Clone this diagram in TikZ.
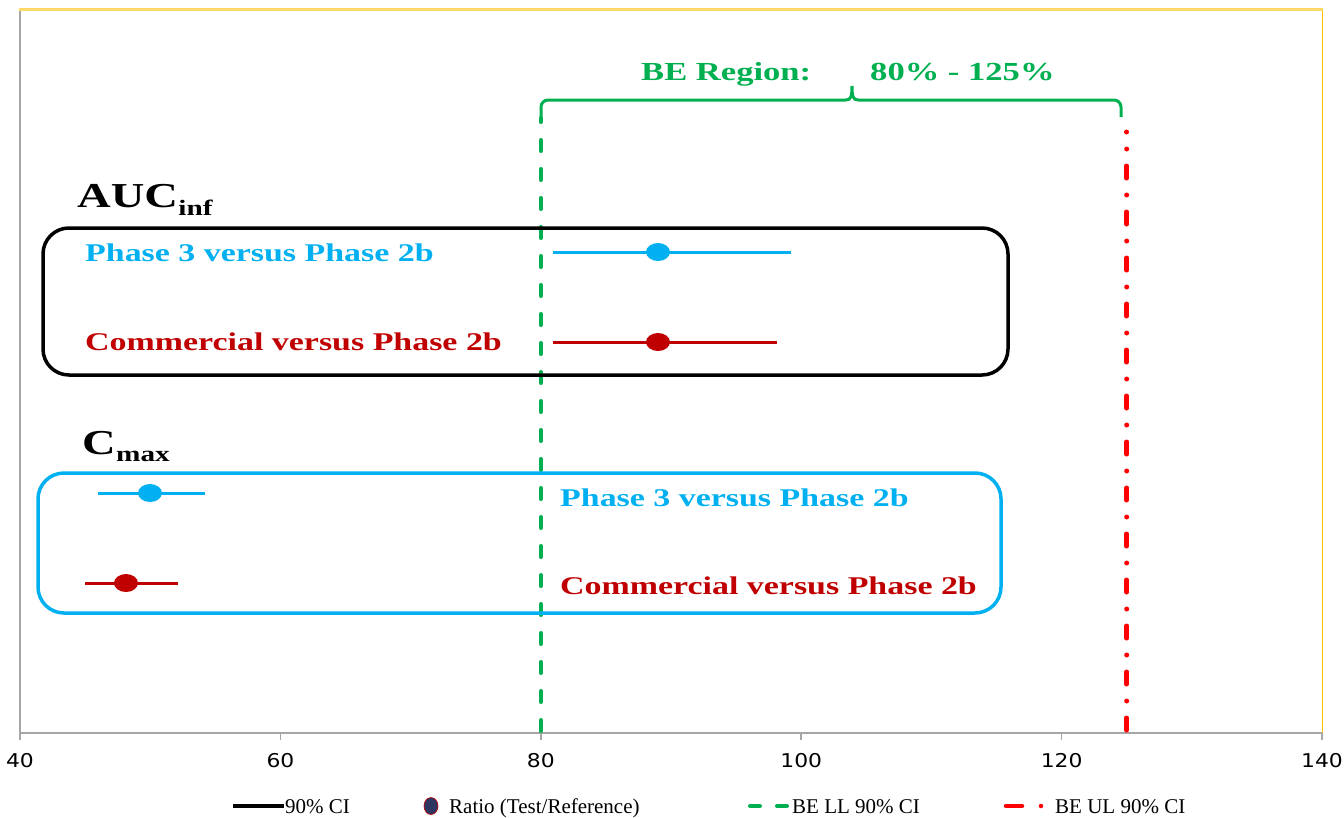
\documentclass[tikz,border=0pt]{standalone}
\usepackage{fontspec}
\setmainfont{Liberation Serif}
\newfontfamily\wideserif[FakeStretch=1.33]{Liberation Serif}
\newfontfamily\legserif[FakeStretch=1.0]{Liberation Serif}
\newfontfamily\axisfont[FakeStretch=1.15]{DejaVu Sans}
\definecolor{cyanc}{HTML}{00B0F0}
\definecolor{redc}{HTML}{C00000}
\definecolor{greenc}{HTML}{00B050}
\definecolor{redl}{HTML}{FF0000}
\definecolor{goldc}{HTML}{FFD966}
\definecolor{yellowc}{HTML}{FFC000}
\definecolor{axisgray}{HTML}{A6A6A6}
\definecolor{navyc}{HTML}{2E3560}
\tikzset{
  lbl/.style={anchor=base west, inner sep=0pt, font=\wideserif\bfseries\fontsize{25.5}{26}\selectfont},
  biglbl/.style={anchor=base west, inner sep=0pt, font=\wideserif\bfseries\fontsize{35}{35}\selectfont},
  sublbl/.style={anchor=base west, inner sep=0pt, font=\wideserif\bfseries\fontsize{22}{22}\selectfont},
  grouptext/.style={anchor=base west, inner sep=0pt, text=greenc, font=\wideserif\bfseries\fontsize{26}{26}\selectfont},
  groupbox/.style={line width=3.5pt, rounded corners=26pt},
  ciline/.style={line width=3pt},
  cidot/.style={ellipse, minimum width=24pt, minimum height=18pt, inner sep=0pt},
  lldash/.style={greenc, line width=4pt, line cap=round, dash pattern=on 11pt off 18pt},
  uldash/.style={redl, line width=5pt, line cap=round, dash pattern=on 12pt off 17pt on 0pt off 17pt},
  braceline/.style={greenc, line width=3pt},
  ticklbl/.style={font=\axisfont\fontsize{19}{19}\selectfont, inner sep=0pt},
  legtext/.style={anchor=base west, inner sep=0pt, font=\legserif\fontsize{21}{21}\selectfont}
}
\usetikzlibrary{shapes.geometric}
\begin{document}
\begin{tikzpicture}[x=1pt, y=-1pt]
\useasboundingbox (0,0) rectangle (1344,817);
% frame
\draw[axisgray, line width=2pt] (20,9) -- (20,733);
\draw[yellowc, line width=1pt] (1322,9) -- (1322,733);
\draw[goldc, line width=3pt] (19,9) -- (1323,9);
% axis
\draw[axisgray, line width=1.5pt] (20,733) -- (1322,733);
\foreach \v/\px in {40/20, 60/280.4, 80/540.8, 100/801.2, 120/1061.6, 140/1322}{
  \draw[axisgray, line width=1.5pt] (\px,733) -- (\px,740);
  \node[ticklbl] (t\v) at (\px,761) {\v};
}
% BE limits
\coordinate (llbot) at (540.8,731);
\coordinate (lltop) at (540.8,118);
\draw[lldash] (llbot) -- (lltop);
\coordinate (ulbot) at (1126.7,730);
\coordinate (ultop) at (1126.7,132);
\draw[uldash] (ulbot) -- (ultop);
% brace
\coordinate (bl) at (541,117);
\coordinate (br) at (1121,117);
\coordinate (tip) at (852,86);
\draw[braceline, rounded corners=7pt] (bl) -- (541,100) -- (846,100);
\draw[braceline] (846,100) .. controls (851,100) and (852,96) .. (tip) .. controls (852,96) and (853,100) .. (858,100);
\draw[braceline, rounded corners=7pt] (858,100) -- (1121,100) -- (br);
\node[grouptext] (beregion) at (641,80) {BE Region:};
\node[grouptext] (berange) at (870,80) {80\% - 125\%};
% AUC group
\node[biglbl] (auc) at (77,207) {AUC};
\node[sublbl, yshift=-8pt] (aucsub) at (auc.base east) {inf};
\draw[groupbox, black] (43,228) rectangle (1008,375);
\node[lbl, text=cyanc] (aucp3) at (85,261) {Phase 3 versus Phase 2b};
\node[lbl, text=redc] (auccom) at (85,350) {Commercial versus Phase 2b};
\coordinate (a1l) at (553,252); \coordinate (a1r) at (791,252);
\draw[ciline, cyanc] (a1l) -- (a1r);
\node[cidot, fill=cyanc] (a1d) at (658,252) {};
\coordinate (a2l) at (553,342); \coordinate (a2r) at (777,342);
\draw[ciline, redc] (a2l) -- (a2r);
\node[cidot, fill=redc] (a2d) at (658,342) {};
% Cmax group
\node[biglbl] (cmax) at (82,454) {C};
\node[sublbl, yshift=-7pt] (cmaxsub) at (cmax.base east) {max};
\draw[groupbox, cyanc] (38,473) rectangle (1001,613);
\node[lbl, text=cyanc] (cp3) at (560,506) {Phase 3 versus Phase 2b};
\node[lbl, text=redc] (ccom) at (560,594) {Commercial versus Phase 2b};
\coordinate (c1l) at (98,493); \coordinate (c1r) at (205,493);
\draw[ciline, cyanc] (c1l) -- (c1r);
\node[cidot, fill=cyanc] (c1d) at (150,493) {};
\coordinate (c2l) at (85,583); \coordinate (c2r) at (178,583);
\draw[ciline, redc] (c2l) -- (c2r);
\node[cidot, fill=redc] (c2d) at (126,583) {};
% legend
\coordinate (lg1a) at (233,806); \coordinate (lg1b) at (284,806);
\draw[black, line width=4pt] (lg1a) -- (lg1b);
\node[legtext] (lgt1) at (285,813) {90\% CI};
\node[ellipse, minimum width=14pt, minimum height=17pt, inner sep=0pt, fill=navyc, draw=redc, line width=0.6pt] (lgdot) at (431,806) {};
\node[legtext] (lgt2) at (449,813) {Ratio (Test/Reference)};
\coordinate (lg3a) at (750,806); \coordinate (lg3b) at (790,806);
\draw[greenc, line width=4pt, line cap=round, dash pattern=on 10pt off 17pt] (lg3a) -- (lg3b);
\node[legtext] (lgt3) at (792,813) {BE LL 90\% CI};
\coordinate (lg4a) at (1006,806); \coordinate (lg4b) at (1022,806);
\draw[redl, line width=4.5pt, line cap=round] (lg4a) -- (lg4b);
\node[circle, fill=redl, minimum size=4.5pt, inner sep=0pt] (lg4dot) at (1041,806) {};
\node[legtext] (lgt4) at (1055,813) {BE UL 90\% CI};
\end{tikzpicture}
\end{document}
